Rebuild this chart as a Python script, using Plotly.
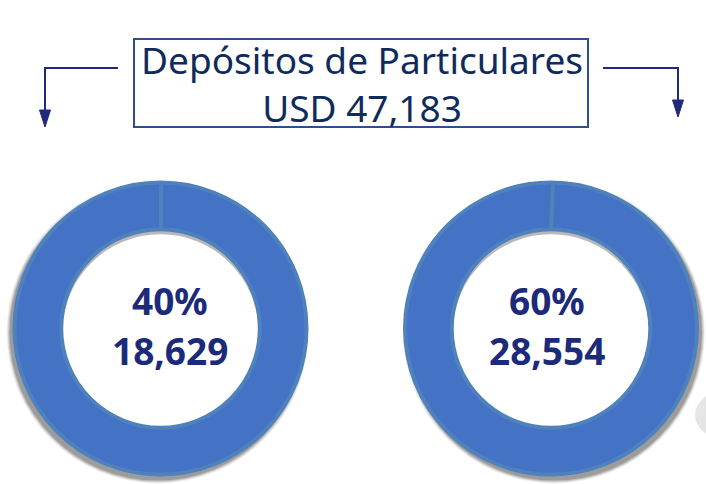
import plotly.graph_objects as go

# ---- data ----
title_lines = ["Depósitos de Particulares", "USD 47,183"]
segment_values = [18629, 28554]
segment_pcts = ["40%", "60%"]
segment_labels = ["18,629", "28,554"]

W, H = 706, 484


def px(x):
    return x / W


def py(y):
    return 1 - y / H


RING = "#4472C4"
EDGE = "#4F81BD"
NAVY_TXT = "#1C2A7A"
TITLE_TXT = "#0F2B5E"
ARROW = "#1F2A7A"

# layout geometry (pixels)
centers = [(160.5, 328.5), (551, 328.5)]
R = 146
HOLE = 0.68
text_x = [170, 547]
seams = [((161, 182), (161, 229)), ((553, 183), (551, 229))]
shadow_off = [(-3, 4), (3, 4)]

fig = go.Figure()
shapes = []
for i, (cx, cy) in enumerate(centers):
    fig.add_trace(go.Pie(
        values=[segment_values[i]],
        labels=[segment_labels[i]],
        hole=HOLE,
        sort=False,
        direction="clockwise",
        textinfo="none",
        hoverinfo="label+percent",
        showlegend=False,
        marker=dict(colors=[RING], line=dict(color=EDGE, width=4)),
        domain=dict(x=[px(cx - R), px(cx + R)], y=[py(cy + R), py(cy - R)]),
    ))
    # soft outer shadow
    dx, dy = shadow_off[i]
    for k, op in [(5, 0.08), (4, 0.12), (3, 0.18), (2, 0.25)]:
        rr = R + k
        shapes.append(dict(type="circle", xref="paper", yref="paper", layer="below",
                           x0=px(cx + dx - rr), x1=px(cx + dx + rr),
                           y0=py(cy + dy + rr), y1=py(cy + dy - rr),
                           fillcolor=f"rgba(60,60,60,{op})", line=dict(width=0)))
    # inner shadow in the hole
    hr = R * HOLE
    shapes.append(dict(type="circle", xref="paper", yref="paper", layer="below",
                       x0=px(cx - hr), x1=px(cx + hr), y0=py(cy + hr), y1=py(cy - hr),
                       fillcolor="#B8B8B8", line=dict(width=0)))
    shapes.append(dict(type="circle", xref="paper", yref="paper", layer="below",
                       x0=px(cx - hr + 1), x1=px(cx + hr - 1), y0=py(cy + hr + 4), y1=py(cy - hr + 5),
                       fillcolor="#FFFFFF", line=dict(width=0)))
    # seam
    (x0, y0), (x1, y1) = seams[i]
    shapes.append(dict(type="line", xref="paper", yref="paper", layer="above",
                       x0=px(x0), y0=py(y0), x1=px(x1), y1=py(y1),
                       line=dict(color=EDGE, width=4)))

# faint grey arc at right edge
shapes.append(dict(type="circle", xref="paper", yref="paper", layer="below",
                   x0=px(695), x1=px(760), y0=py(440), y1=py(390),
                   fillcolor="rgba(150,150,150,0.25)", line=dict(width=0)))

# title box
shapes.append(dict(type="rect", xref="paper", yref="paper",
                   x0=px(134), x1=px(588), y0=py(127), y1=py(39),
                   line=dict(color="#2F4E8F", width=2), fillcolor="rgba(0,0,0,0)"))

# arrows
shapes.append(dict(type="path", xref="paper", yref="paper",
                   path=f"M {px(118)},{py(68)} L {px(45)},{py(68)} L {px(45)},{py(112)}",
                   line=dict(color=ARROW, width=2)))
shapes.append(dict(type="path", xref="paper", yref="paper",
                   path=f"M {px(39.5)},{py(110)} L {px(50.5)},{py(110)} L {px(45)},{py(127)} Z",
                   line=dict(color=ARROW, width=1), fillcolor=ARROW))
shapes.append(dict(type="path", xref="paper", yref="paper",
                   path=f"M {px(603)},{py(68)} L {px(678)},{py(68)} L {px(678)},{py(102)}",
                   line=dict(color=ARROW, width=2)))
shapes.append(dict(type="path", xref="paper", yref="paper",
                   path=f"M {px(672.5)},{py(100)} L {px(683.5)},{py(100)} L {px(678)},{py(117)} Z",
                   line=dict(color=ARROW, width=1), fillcolor=ARROW))


def ann(text, x, y, size, color):
    return dict(text=text, x=px(x), y=py(y), xref="paper", yref="paper",
                xanchor="center", yanchor="middle", showarrow=False,
                font=dict(family="Noto Sans", size=size, color=color))


annotations = [ann("<br>".join(title_lines), 362, 83, 37, TITLE_TXT)]
for i in range(2):
    cy = centers[i][1]
    annotations.append(ann(f"<b>{segment_pcts[i]}</b>", text_x[i], cy - 28, 37, NAVY_TXT))
    annotations.append(ann(f"<b>{segment_labels[i]}</b>", text_x[i], cy + 22, 37, NAVY_TXT))

fig.update_layout(
    width=W, height=H,
    margin=dict(l=0, r=0, t=0, b=0),
    paper_bgcolor="white", plot_bgcolor="white",
    shapes=shapes, annotations=annotations,
)
fig.write_html("out.html", config={"displayModeBar": False},
               post_script="document.body.style.margin='0px';")
